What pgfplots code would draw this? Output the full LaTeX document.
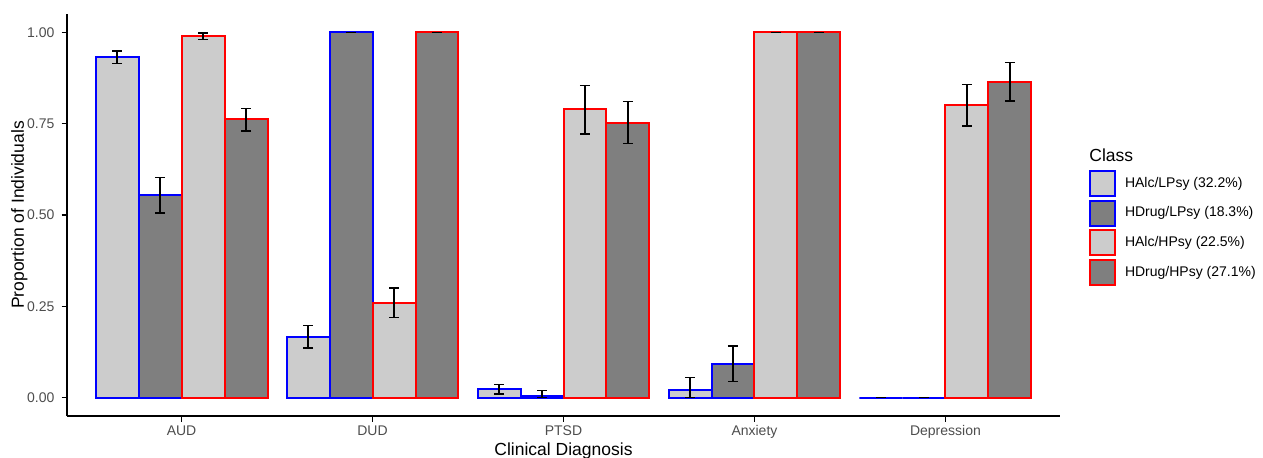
\documentclass[border=0pt]{standalone}
\usepackage{fontspec}
\setmainfont{Liberation Sans}
\usepackage{pgfplots}
\pgfplotsset{compat=1.18}
\definecolor{lightfill}{HTML}{CCCCCC}
\definecolor{darkfill}{HTML}{7F7F7F}
\definecolor{ticktext}{HTML}{4D4D4D}
\pgfplotsset{
  barsty/.style={ybar, bar width=0.225, bar shift=0, line width=1pt,
    area legend,
    legend image code/.code={\draw[##1, line width=1pt] (0pt,-6.25pt) rectangle (12.5pt,6.25pt);},
    error bars/y dir=both, error bars/y explicit,
    error bars/error bar style={black, line width=0.7pt},
    error bars/error mark options={black, rotate=90, mark size=2.5pt, line width=0.7pt}},
}
\begin{document}
\begin{tikzpicture}
\begin{axis}[
  scale only axis, width=496.5pt, height=201pt,
  xmin=-0.6, xmax=4.6, ymin=-0.05, ymax=1.05,
  clip=false,
  axis x line*=bottom, axis y line*=left,
  axis line style={black, line width=0.9pt},
  tick align=outside, major tick length=2.75pt,
  tick style={black, line width=0.7pt},
  xtick={0,1,2,3,4}, xticklabels={AUD,DUD,PTSD,Anxiety,Depression},
  ytick={0,0.25,0.5,0.75,1}, yticklabels={0.00,0.25,0.50,0.75,1.00},
  ticklabel style={font=\fontsize{7}{8}\selectfont, text=ticktext},
  xticklabel style={yshift=1.5pt},
  xlabel={Clinical Diagnosis}, ylabel={Proportion of Individuals},
  label style={font=\fontsize{8.75}{10}\selectfont},
  xlabel style={at={(axis description cs:0.5,-0.097)}, anchor=base},
  ylabel style={at={(axis description cs:-0.0433,0.5)}, anchor=base},
  legend style={at={(1.0292,0.4677)}, anchor=west, draw=none, fill=none,
    inner sep=0pt, outer sep=0pt, row sep=1.35pt, column sep=4.5pt,
    font=\fontsize{7}{8}\selectfont, nodes={inner sep=0pt}},
  legend cell align=left,
]
\addplot[barsty, fill=lightfill, draw=blue] coordinates {
  (-0.3375,0.931) += (0,0.018) -= (0,0.017)
  (0.6625,0.166) += (0,0.031) -= (0,0.030)
  (1.6625,0.024) += (0,0.013) -= (0,0.014)
  (2.6625,0.022) += (0,0.034) -= (0,0.022)
  (3.6625,0.000) += (0,0.000) -= (0,0.000)
};
\addlegendentry{HAlc/LPsy (32.2\%)}
\addplot[barsty, fill=darkfill, draw=blue] coordinates {
  (-0.1125,0.555) += (0,0.047) -= (0,0.049)
  (0.8875,1.000) += (0,0.000) -= (0,0.000)
  (1.8875,0.005) += (0,0.015) -= (0,0.004)
  (2.8875,0.093) += (0,0.049) -= (0,0.049)
  (3.8875,0.000) += (0,0.000) -= (0,0.000)
};
\addlegendentry{HDrug/LPsy (18.3\%)}
\addplot[barsty, fill=lightfill, draw=red] coordinates {
  (0.1125,0.989) += (0,0.009) -= (0,0.009)
  (1.1125,0.259) += (0,0.041) -= (0,0.040)
  (2.1125,0.789) += (0,0.065) -= (0,0.067)
  (3.1125,1.000) += (0,0.000) -= (0,0.000)
  (4.1125,0.800) += (0,0.057) -= (0,0.057)
};
\addlegendentry{HAlc/HPsy (22.5\%)}
\addplot[barsty, fill=darkfill, draw=red] coordinates {
  (0.3375,0.762) += (0,0.030) -= (0,0.032)
  (1.3375,1.000) += (0,0.000) -= (0,0.000)
  (2.3375,0.753) += (0,0.058) -= (0,0.058)
  (3.3375,1.000) += (0,0.000) -= (0,0.000)
  (4.3375,0.865) += (0,0.053) -= (0,0.053)
};
\addlegendentry{HDrug/HPsy (27.1\%)}
\node[anchor=base west, inner sep=0pt, font=\fontsize{8.75}{10}\selectfont] at (rel axis cs:1.0292,0.632) {Class};
\coordinate (bbsw) at (rel axis cs:-0.06747,-0.10199);
\coordinate (bbne) at (rel axis cs:1.20443,1.03483);
\end{axis}
\pgfresetboundingbox
\path[use as bounding box] (bbsw) rectangle (bbne);
\end{tikzpicture}
\end{document}
